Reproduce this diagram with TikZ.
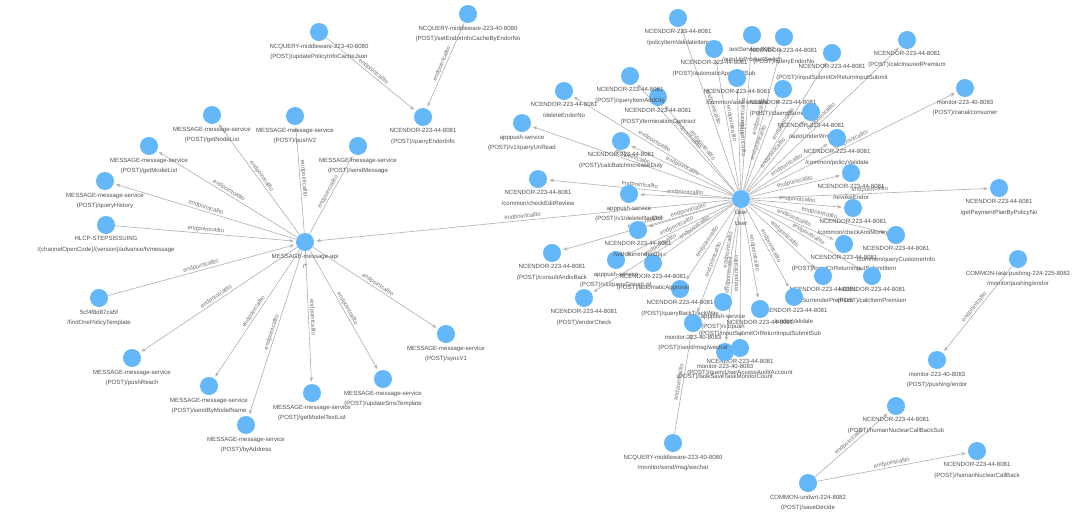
\documentclass[tikz,border=0pt]{standalone}
\usepackage{fontspec}
\setmainfont{Liberation Sans}
\usetikzlibrary{arrows.meta,backgrounds}
\definecolor{nodeblue}{RGB}{100,183,248}
\definecolor{edgegray}{RGB}{178,178,178}
\definecolor{textgray}{RGB}{80,80,80}
\tikzset{
 svc/.style={circle,fill=nodeblue,draw=none,minimum size=0.45cm,inner sep=0pt},
 lbl/.style={font=\fontsize{4.3}{7.6}\selectfont,text=textgray,align=center,inner sep=0pt,label distance=1.5pt},
 callto/.style={-{Stealth[length=3.2pt,width=2.6pt]},draw=edgegray,line width=0.45pt,shorten >=1.5pt},
 elbl/.style={sloped,above,midway,font=\fontsize{4.2}{5}\selectfont,text=black!55,inner sep=0.6pt}}
\begin{document}
\begin{tikzpicture}[x=0.025cm,y=-0.025cm]
\useasboundingbox (0,0) rectangle (1080,527);
% left cluster
\node[svc,label={[lbl]below:{MESSAGE-message-api\\/*}}] (msgapi) at (305,242) {};
\node[svc,label={[lbl]below:{MESSAGE-message-service\\(POST)/getNodeList}}] (getNodeList) at (212,115) {};
\node[svc,label={[lbl]below:{MESSAGE-message-service\\(POST)/pushV2}}] (pushV2) at (295,116) {};
\node[svc,label={[lbl]below:{MESSAGE-message-service\\(POST)/sendMessage}}] (sendMsg) at (358,146) {};
\node[svc,label={[lbl]below:{MESSAGE-message-service\\(POST)/getModelList}}] (getModelList) at (149,146) {};
\node[svc,label={[lbl]below:{MESSAGE-message-service\\(POST)/queryHistory}}] (queryHist) at (105,181) {};
\node[svc,label={[lbl]below:{HLCP-STEPSISSUING\\/\{channelOpenCode\}/\{version\}/advance/h/message}}] (hlcp) at (106,225) {};
\node[svc,label={[lbl]below:{5cf4f8d87ca5f\\/findOnePolicyTemplate}}] (tmpl) at (99,298) {};
\node[svc,label={[lbl]below:{MESSAGE-message-service\\(POST)/pushReach}}] (pushReach) at (132,358) {};
\node[svc,label={[lbl]below:{MESSAGE-message-service\\(POST)/sendByModelName}}] (sendByName) at (209,386) {};
\node[svc,label={[lbl]below:{MESSAGE-message-service\\(POST)/byAddress}}] (byAddr) at (246,425) {};
\node[svc,label={[lbl]below:{MESSAGE-message-service\\(POST)/getModelTextList}}] (getTextList) at (312,393) {};
\node[svc,label={[lbl]below:{MESSAGE-message-service\\(POST)/updateSmsTemplate}}] (updSms) at (383,379) {};
\node[svc,label={[lbl]below:{MESSAGE-message-service\\(POST)/syncV1}}] (syncV1) at (446,334) {};
% endor info cache
\node[svc,label={[lbl]below:{NCQUERY-middleware-223-40-8080\\(POST)/updatePolicyInfoCacheJson}}] (updCache) at (319,32) {};
\node[svc,label={[lbl]below:{NCQUERY-middleware-223-40-8080\\(POST)/setEndorInfoCacheByEndorNo}}] (setCache) at (468,14) {};
\node[svc,label={[lbl]below:{NCENDOR-223-44-8081\\(POST)/queryEndorInfo}}] (qEndorInfo) at (423,117) {};
% right cluster
\node[svc,label={[lbl]below:{User\\User}}] (user) at (741,199) {};
\node[svc,label={[lbl]below:{NCENDOR-223-44-8081\\/policyItemValidateItem}}] (polItem) at (678,18) {};
\node[svc,label={[lbl]below:{NCENDOR-223-44-8081\\(POST)/automaticApprovalSub}}] (autoApprSub) at (714,49) {};
\node[svc,label={[lbl]below:{testService-8082\\/autoUpProductSwitch}}] (testSvc) at (752,35) {};
\node[svc,label={[lbl]below:{NCENDOR-223-44-8081\\(POST)/queryEndorNo}}] (qEndorNo) at (784,37) {};
\node[svc,label={[lbl]below:{NCENDOR-223-44-8081\\(POST)/inputSubmitOrReturnInputSubmit}}] (inSubmit) at (832,53) {};
\node[svc,label={[lbl]below:{NCENDOR-223-44-8081\\(POST)/calcInsuredPremium}}] (calcIns) at (907,40) {};
\node[svc,label={[lbl]below:{NCENDOR-223-44-8081\\/common/askForLeave}}] (askLeave) at (737,78) {};
\node[svc,label={[lbl]below:{NCENDOR-223-44-8081\\(POST)/claimsSurrender}}] (claimsSurr) at (783,89) {};
\node[svc,label={[lbl]below:{NCENDOR-223-44-8081\\/autoUnderWrite}}] (autoUW) at (811,112) {};
\node[svc,label={[lbl]below:{NCENDOR-223-44-8081\\/common/policyValidate}}] (polValid) at (837,138) {};
\node[svc,label={[lbl]below:{monitor-223-40-8083\\(POST)/canal/consumer}}] (canal) at (965,88) {};
\node[svc,label={[lbl]below:{NCENDOR-223-44-8081\\/revokeEndor}}] (revoke) at (851,173) {};
\node[svc,label={[lbl]below:{NCENDOR-223-44-8081\\/getPaymentPlanByPolicyNo}}] (payPlan) at (999,188) {};
\node[svc,label={[lbl]below:{NCENDOR-223-44-8081\\/common/checkAntiMoney}}] (antiMoney) at (853,208) {};
\node[svc,label={[lbl]below:{NCENDOR-223-44-8081\\/common/queryCustomerInfo}}] (qCust) at (896,235) {};
\node[svc,label={[lbl]below:{NCENDOR-223-44-8081\\(POST)/inputOrReturnInputSubmitItem}}] (inItem) at (844,244) {};
\node[svc,label={[lbl]below:{NCENDOR-223-44-8081\\/calSurrenderPremium}}] (calSurr) at (823,276) {};
\node[svc,label={[lbl]below:{NCENDOR-223-44-8081\\(POST)/calcItemPremium}}] (calcItem) at (872,276) {};
\node[svc,label={[lbl]below:{NCENDOR-223-44-8081\\/endorValidate}}] (endorValid) at (794,297) {};
\node[svc,label={[lbl]below:{NCENDOR-223-44-8081\\(POST)/inputSubmitOrReturnInputSubmitSub}}] (inSub) at (760,309) {};
\node[svc,label={[lbl]below:{NCENDOR-223-44-8081\\(POST)/queryUserAccessAuditAccount}}] (qAudit) at (740,348) {};
\node[svc,label={[lbl]below:{monitor-223-40-8083\\(POST)/taskSaveTaskMonitorCount}}] (taskSave) at (725,352) {};
\node[svc,label={[lbl]below:{apppush-service\\(POST)/v1/push}}] (push) at (723,302) {};
\node[svc,label={[lbl]below:{monitor-223-40-8083\\(POST)/send/msg/wechat}}] (wechat) at (693,323) {};
\node[svc,label={[lbl]below:{NCENDOR-223-44-8081\\(POST)/queryBackTrackWay}}] (backTrack) at (680,289) {};
\node[svc,label={[lbl]below:{NCENDOR-223-44-8081\\(POST)/automaticApproval}}] (autoAppr) at (653,263) {};
\node[svc,label={[lbl]below:{NCENDOR-223-44-8081\\(POST)/endorCheck}}] (endorCheck) at (584,298) {};
\node[svc,label={[lbl]below:{apppush-service\\(POST)/v1/queryGroupList}}] (qGroup) at (616,260) {};
\node[svc,label={[lbl]below:{NCENDOR-223-44-8081\\(POST)/consultAndisBack}}] (consult) at (552,253) {};
\node[svc,label={[lbl]below:{NCENDOR-223-44-8081\\/withSurrenderObj}}] (withSurr) at (638,230) {};
\node[svc,label={[lbl]below:{apppush-service\\(POST)/v1/deleteRedDot}}] (delRed) at (629,194) {};
\node[svc,label={[lbl]below:{NCENDOR-223-44-8081\\/common/checkEditReview}}] (editRev) at (538,179) {};
\node[svc,label={[lbl]below:{NCENDOR-223-44-8081\\(POST)/calcBatchIncreaseDuty}}] (calcBatch) at (621,141) {};
\node[svc,label={[lbl]below:{apppush-service\\(POST)/v1/queryUnRead}}] (unread) at (522,123) {};
\node[svc,label={[lbl]below:{NCENDOR-223-44-8081\\/deleteEndorNo}}] (delEndor) at (564,91) {};
\node[svc,label={[lbl]below:{NCENDOR-223-44-8081\\(POST)/terminationContract}}] (termin) at (658,97) {};
\node[svc,label={[lbl]below:{NCENDOR-223-44-8081\\(POST)/queryItemAddObj}}] (itemAdd) at (630,76) {};
% small components
\node[svc,label={[lbl]below:{NCQUERY-middleware-223-40-8080\\/monitor/send/msg/wechat}}] (qWechat) at (673,443) {};
\node[svc,label={[lbl]below:{COMMON-task-pushing-224-225-8082\\/monitor/pushing/endor}}] (taskPush) at (1018,259) {};
\node[svc,label={[lbl]below:{monitor-223-40-8083\\(POST)/pushing/endor}}] (monPush) at (937,360) {};
\node[svc,label={[lbl]below:{NCENDOR-223-44-8081\\(POST)/humanNuclearCallBackSub}}] (hnSub) at (896,406) {};
\node[svc,label={[lbl]below:{NCENDOR-223-44-8081\\(POST)/humanNuclearCallBack}}] (hnBack) at (977,451) {};
\node[svc,label={[lbl]below:{COMMON-undwrt-224-8082\\(POST)/saveDecide}}] (undwrt) at (808,483) {};

\begin{scope}[on background layer]
\foreach \n in {getNodeList,pushV2,sendMsg,getModelList,queryHist,pushReach,sendByName,byAddr,getTextList,updSms,syncV1}
 \draw[callto] (msgapi) -- node[elbl]{endpointcallto} (\n);
\draw[callto] (hlcp) -- node[elbl]{endpointcallto} (msgapi);
\draw[callto] (tmpl) -- node[elbl]{endpointcallto} (msgapi);
\draw[callto] (updCache) -- node[elbl]{endpointcallto} (qEndorInfo);
\draw[callto] (setCache) -- node[elbl]{endpointcallto} (qEndorInfo);
\foreach \n in {polItem,autoApprSub,testSvc,qEndorNo,inSubmit,calcIns,askLeave,claimsSurr,autoUW,polValid,canal,revoke,payPlan,antiMoney,qCust,inItem,calSurr,calcItem,endorValid,inSub,qAudit,taskSave,push,wechat,backTrack,autoAppr,endorCheck,qGroup,consult,withSurr,delRed,editRev,calcBatch,unread,delEndor,termin,itemAdd,msgapi}
 \draw[callto] (user) -- node[elbl]{endpointcallto} (\n);
\draw[callto] (qWechat) -- node[elbl]{endpointcallto} (wechat);
\draw[callto] (taskPush) -- node[elbl]{endpointcallto} (monPush);
\draw[callto] (undwrt) -- node[elbl]{endpointcallto} (hnSub);
\draw[callto] (undwrt) -- node[elbl]{endpointcallto} (hnBack);
\end{scope}
\end{tikzpicture}
\end{document}
